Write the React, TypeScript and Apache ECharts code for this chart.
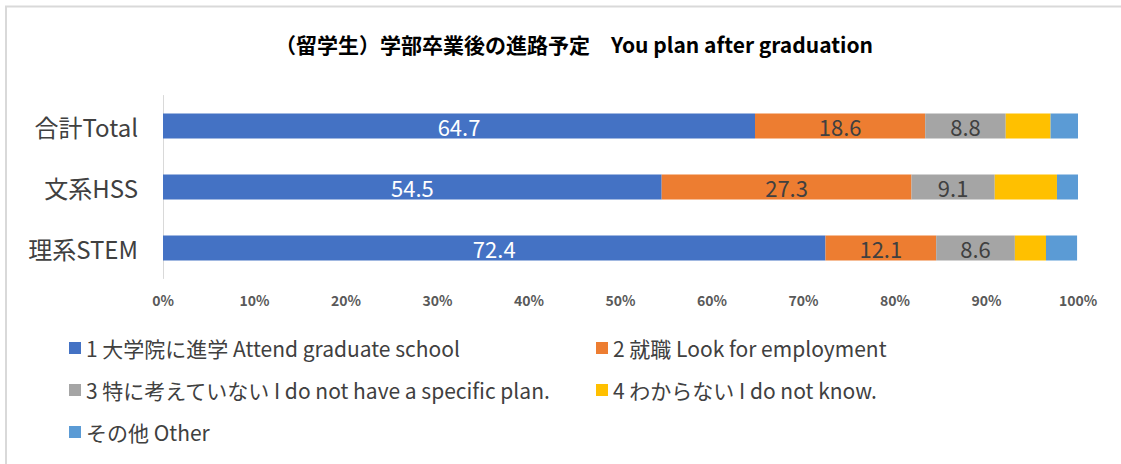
import React, { useEffect, useRef } from "react";
import * as echarts from "echarts";

const categories = ["合計Total", "文系HSS", "理系STEM"];
const seriesNames = [
  "1 大学院に進学 Attend graduate school",
  "2 就職 Look for employment",
  "3 特に考えていない I do not have a specific plan.",
  "4 わからない I do not know.",
  "その他 Other",
];
const graduateSchool = [64.7, 54.5, 72.4];
const employment = [18.6, 27.3, 12.1];
const noPlan = [8.8, 9.1, 8.6];
const dontKnow = [4.9, 6.8, 3.4];
const other = [3.0, 2.3, 3.4];
const xTicks = [0, 10, 20, 30, 40, 50, 60, 70, 80, 90, 100];

const colors = ["#4472C4", "#ED7D31", "#A5A5A5", "#FFC000", "#5B9BD5"];
const FONT = '"Noto Sans CJK JP", "Noto Sans", sans-serif';

export default function App() {
  const ref = useRef<HTMLDivElement>(null);
  useEffect(() => {
    document.body.style.margin = "0";
    const chart = echarts.init(ref.current!, null, { renderer: "svg" });
    const values = [graduateSchool, employment, noPlan, dontKnow, other];
    const legendPos = [
      { left: 69, top: 337 },
      { left: 596, top: 337 },
      { left: 69, top: 379 },
      { left: 596, top: 379 },
      { left: 69, top: 421 },
    ];
    chart.setOption({
      animation: false,
      textStyle: { fontFamily: FONT },
      title: {
        text: "（留学生）学部卒業後の進路予定　You plan after graduation",
        left: 275,
        top: 33,
        padding: 0,
        textStyle: { fontFamily: FONT, fontSize: 21, fontWeight: "bold", color: "#000000" },
      },
      graphic: [
        {
          type: "rect",
          shape: { x: 6, y: 6.5, width: 1300, height: 600 },
          style: { fill: "none", stroke: "#d9d9d9", lineWidth: 2 },
          silent: true,
        },
      ],
      legend: seriesNames.map((n, i) => ({
        data: [n],
        left: legendPos[i].left,
        top: legendPos[i].top,
        padding: 0,
        orient: "horizontal",
        itemWidth: 12,
        itemHeight: 12,
        icon: "rect",
        selectedMode: false,
        textStyle: { fontFamily: FONT, fontSize: 21, color: "#404040", lineHeight: 22 },
      })),
      grid: { left: 163, right: 43, top: 95.5, height: 183, containLabel: false },
      xAxis: {
        type: "value",
        min: xTicks[0],
        max: xTicks[xTicks.length - 1],
        interval: 10,
        axisLine: { show: false },
        axisTick: { show: false },
        splitLine: { show: false },
        axisLabel: {
          formatter: "{value}%",
          fontFamily: FONT,
          fontSize: 14,
          fontWeight: "bold",
          color: "#595959",
          margin: 14,
        },
      },
      yAxis: {
        type: "category",
        data: categories,
        inverse: true,
        axisLine: { show: true, lineStyle: { color: "#d9d9d9", width: 1 } },
        axisTick: { show: false },
        axisLabel: { fontFamily: FONT, fontSize: 24, color: "#404040", margin: 25 },
      },
      series: seriesNames.map((n, i) => ({
        name: n,
        type: "bar",
        stack: "total",
        barWidth: 25,
        data: values[i],
        itemStyle: { color: colors[i] },
        label: {
          show: i < 3,
          position: "inside",
          fontFamily: FONT,
          fontSize: 22,
          color: i === 0 ? "#ffffff" : "#404040",
          formatter: (p: any) => p.value.toFixed(1),
        },
      })),
    });
    return () => chart.dispose();
  }, []);
  return <div ref={ref} style={{ width: 1121, height: 464 }} />;
}
